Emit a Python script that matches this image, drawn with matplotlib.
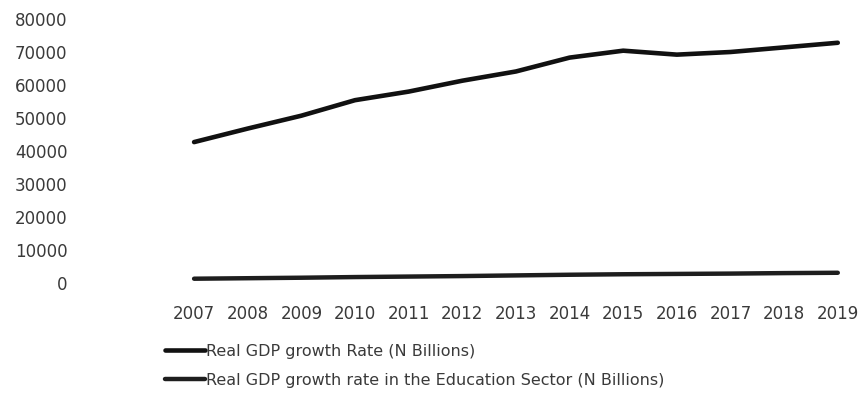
import numpy as np
import matplotlib
matplotlib.use("Agg")
import matplotlib.pyplot as plt

years = [2007, 2008, 2009, 2010, 2011, 2012, 2013, 2014, 2015, 2016, 2017, 2018, 2019]
real_gdp = [42700, 46800, 50700, 55400, 58000, 61300, 64100, 68300, 70400, 69200, 70000, 71400, 72800]
edu_gdp = [1300, 1450, 1600, 1800, 1950, 2100, 2300, 2500, 2650, 2750, 2850, 3000, 3100]
y_ticks = [0, 10000, 20000, 30000, 40000, 50000, 60000, 70000, 80000]
labels = ["Real GDP growth Rate (N Billions)",
          "Real GDP growth rate in the Education Sector (N Billions)"]

plt.rcParams['font.family'] = ['DejaVu Sans']

fig = plt.figure(figsize=(8.65, 3.99), dpi=100)
ax = fig.add_axes([75 / 865, 1 - 283 / 399, 788 / 865, 264 / 399])

# both series drawn thick and near-black, like the scanned original
ax.plot(years, real_gdp, color='#111111', lw=3.3, solid_capstyle='round', label=labels[0])
ax.plot(years, edu_gdp, color='#1e1e1e', lw=3.2, solid_capstyle='round', label=labels[1])

ax.set_ylim(0, 80000)
ax.set_xlim(2004.78, 2019.47)
ax.set_yticks(y_ticks)
ax.set_yticklabels([str(v) for v in y_ticks])
ax.set_xticks(years)
ax.set_xticklabels([str(y) for y in years])
ax.tick_params(axis='both', length=0, labelsize=12, colors='#3a3a3a')
ax.tick_params(axis='y', pad=5.5)
ax.tick_params(axis='x', pad=15.5)
for s in ax.spines.values():
    s.set_visible(False)

fig.legend(loc='upper left', bbox_to_anchor=(165 / 865, 1 - 344 / 399), frameon=False,
           fontsize=11.5, handlelength=2.5, handletextpad=0.05, labelspacing=0.85,
           borderpad=0, borderaxespad=0, labelcolor='#3a3a3a')

fig.savefig("out.png", dpi=100)
